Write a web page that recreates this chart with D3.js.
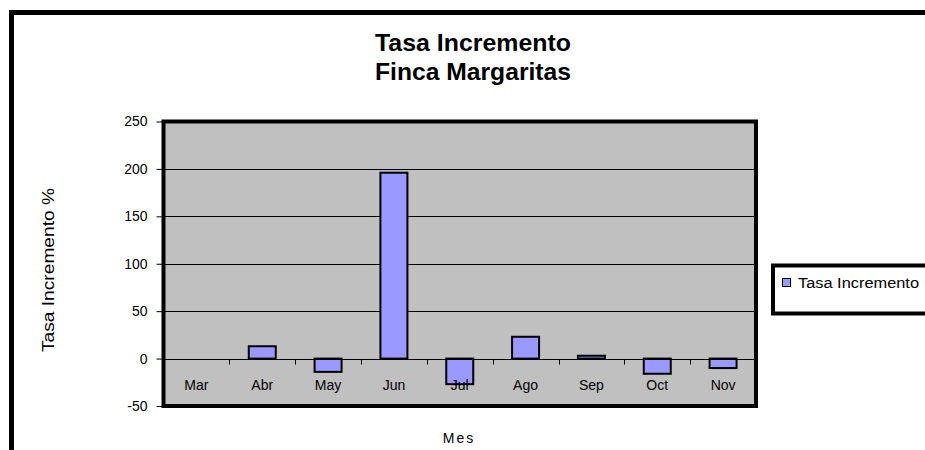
<!DOCTYPE html>
<html>
<head>
<meta charset="utf-8">
<script src="https://cdn.jsdelivr.net/npm/d3@7"></script>
<style>
  html, body { margin: 0; padding: 0; background: #fff; }
  svg { display: block; }
  text { font-family: "Liberation Sans", Arial, sans-serif; fill: #000; }
</style>
</head>
<body>
<svg id="chart" width="925" height="450"></svg>
<script>
// Monthly growth rate, Finca Margaritas
const months = ["Mar", "Abr", "May", "Jun", "Jul", "Ago", "Sep", "Oct", "Nov"];
const tasaIncremento = [0, 13, -14, 196, -27, 23, 3, -16, -10];
const yTicks = [-50, 0, 50, 100, 150, 200, 250];
const titleLines = ["Tasa Incremento", "Finca Margaritas"];
const yTitle = "Tasa Incremento %";
const xTitle = "Mes";
const seriesName = "Tasa Incremento";

const svg = d3.select("#chart");

// Outer chart frame (runs off the right and bottom edges)
svg.append("rect")
  .attr("x", 11.5).attr("y", 12.5)
  .attr("width", 1000).attr("height", 1000)
  .attr("fill", "#fff").attr("stroke", "#000").attr("stroke-width", 5);

const plot = { left: 163.5, right: 756, top: 121.5, bottom: 406 };

const x = d3.scaleBand()
  .domain(months)
  .range([plot.left, plot.right])
  .paddingInner(0).paddingOuter(0);

const y = d3.scaleLinear()
  .domain([-50, 250])
  .range([plot.bottom, plot.top]);

// Plot area background
svg.append("rect")
  .attr("x", plot.left).attr("y", plot.top)
  .attr("width", plot.right - plot.left).attr("height", plot.bottom - plot.top)
  .attr("fill", "#C0C0C0");

// Horizontal gridlines
svg.append("g")
  .selectAll("line")
  .data(yTicks.filter(v => v > 0 && v < 250))
  .join("line")
  .attr("x1", plot.left).attr("x2", plot.right)
  .attr("y1", d => Math.round(y(d)) + 0.5).attr("y2", d => Math.round(y(d)) + 0.5)
  .attr("stroke", "#000").attr("stroke-width", 1);

// Bars
const barW = 27;
svg.append("g")
  .selectAll("rect")
  .data(months.map((m, i) => ({ m, v: tasaIncremento[i] })).filter(d => d.v !== 0))
  .join("rect")
  .attr("x", d => x(d.m) + x.bandwidth() / 2 - barW / 2)
  .attr("y", d => y(Math.max(0, d.v)))
  .attr("width", barW)
  .attr("height", d => Math.abs(y(d.v) - y(0)))
  .attr("fill", "#9999FF")
  .attr("stroke", "#000").attr("stroke-width", 2);

// Zero axis line with tick marks between categories
const zeroY = Math.round(y(0)) + 0.5;
svg.append("line")
  .attr("x1", plot.left).attr("x2", plot.right)
  .attr("y1", zeroY).attr("y2", zeroY)
  .attr("stroke", "#000").attr("stroke-width", 1);
svg.append("g")
  .selectAll("line")
  .data(months.slice(1))
  .join("line")
  .attr("x1", d => Math.round(x(d)) + 0.5).attr("x2", d => Math.round(x(d)) + 0.5)
  .attr("y1", zeroY).attr("y2", zeroY + 5)
  .attr("stroke", "#000").attr("stroke-width", 1);

// Category labels, inside the plot below the zero line
svg.append("g")
  .selectAll("text")
  .data(months)
  .join("text")
  .attr("x", d => x(d) + x.bandwidth() / 2)
  .attr("y", 390)
  .attr("text-anchor", "middle")
  .attr("font-size", 14)
  .text(d => d);

// Plot frame
svg.append("rect")
  .attr("x", plot.left).attr("y", plot.top)
  .attr("width", plot.right - plot.left).attr("height", plot.bottom - plot.top)
  .attr("fill", "none").attr("stroke", "#000").attr("stroke-width", 4);

// Y axis
const yAxis = d3.axisLeft(y).tickValues(yTicks).tickSize(6).tickPadding(9)
  .tickFormat(d => String(d));
const yg = svg.append("g")
  .attr("transform", `translate(${plot.left - 1},0)`)
  .call(yAxis);
yg.select(".domain").remove();
yg.selectAll(".tick line").attr("stroke", "#000");
yg.selectAll(".tick text")
  .attr("font-size", 14)
  .attr("font-family", "'Liberation Sans', Arial, sans-serif")
  .attr("fill", "#000");

// Titles
svg.append("g")
  .selectAll("text")
  .data(titleLines)
  .join("text")
  .attr("x", 473)
  .attr("y", (d, i) => 51 + i * 29)
  .attr("text-anchor", "middle")
  .attr("font-size", 24)
  .attr("font-weight", "bold")
  .attr("textLength", 196)
  .attr("lengthAdjust", "spacingAndGlyphs")
  .text(d => d);

svg.append("text")
  .attr("transform", "translate(54,270) rotate(-90)")
  .attr("text-anchor", "middle")
  .attr("font-size", 16)
  .attr("textLength", 164)
  .attr("lengthAdjust", "spacingAndGlyphs")
  .text(yTitle);

svg.append("text")
  .attr("x", 459).attr("y", 443)
  .attr("text-anchor", "middle")
  .attr("font-size", 14)
  .attr("letter-spacing", 2)
  .text(xTitle);

// Legend
const legend = svg.append("g");
legend.append("rect")
  .attr("x", 773).attr("y", 265.5)
  .attr("width", 300).attr("height", 48)
  .attr("fill", "#fff").attr("stroke", "#000").attr("stroke-width", 4);
legend.append("rect")
  .attr("x", 782.5).attr("y", 278.5)
  .attr("width", 8).attr("height", 8)
  .attr("fill", "#9999FF").attr("stroke", "#000").attr("stroke-width", 1);
legend.append("text")
  .attr("x", 798).attr("y", 288)
  .attr("font-size", 14)
  .attr("textLength", 121)
  .attr("lengthAdjust", "spacingAndGlyphs")
  .text(seriesName);
</script>
</body>
</html>
